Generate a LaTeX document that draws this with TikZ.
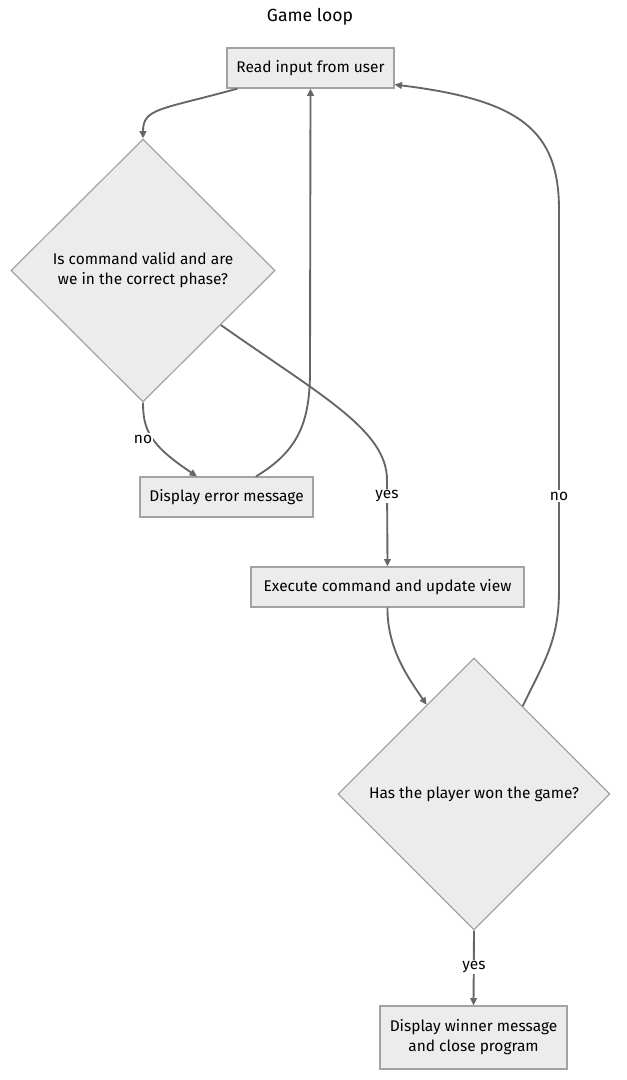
\documentclass[tikz,border=0pt]{standalone}
\usepackage{fontspec}
\setmainfont{Fira Sans}
\usetikzlibrary{shapes.geometric,arrows.meta,calc}
\definecolor{nodefill}{HTML}{ECECEC}
\definecolor{nodeline}{HTML}{A3A3A3}
\definecolor{edgecol}{HTML}{666666}
\tikzset{
  box/.style={draw=nodeline, fill=nodefill, line width=0.9pt, inner sep=0pt, align=center, font=\fontsize{11.6}{15}\selectfont},
  decision/.style={diamond, aspect=1, draw=nodeline, fill=nodefill, line width=0.9pt, inner sep=0pt, align=center, font=\fontsize{11.6}{15}\selectfont},
  edge/.style={draw=edgecol, line width=1.4pt, -{Triangle[length=5.5pt,width=5pt]}},
  lbl/.style={fill=white, inner sep=1pt, font=\fontsize{11.6}{13}\selectfont, text=black},
  ttl/.style={font=\fontsize{13.2}{15}\selectfont}
}
\begin{document}
\begin{tikzpicture}[x=0.75pt,y=-0.75pt]
\useasboundingbox (0,0) rectangle (627,1080);
\node[ttl] (title) at (310,17) {Game loop};
\node[box, minimum width=167*0.75pt, minimum height=40*0.75pt] (A) at (310.5,68) {Read input from user};
\node[decision, minimum width=264*0.75pt, minimum height=263*0.75pt] (B) at (143,270.5) {Is command valid and are\\we in the correct phase?};
\node[box, minimum width=173*0.75pt, minimum height=40*0.75pt] (C) at (226.5,497) {Display error message};
\node[box, minimum width=273*0.75pt, minimum height=40*0.75pt] (D) at (387.5,587) {Execute command and update view};
\node[decision, minimum width=272*0.75pt, minimum height=272*0.75pt] (E) at (474,794) {Has the player won the game?};
\node[box, minimum width=187*0.75pt, minimum height=63*0.75pt] (F) at (473.5,1037.5) {Display winner message\\and close program};

\coordinate (Aout) at ($(A.south)+(-73,0)$);
\coordinate (Ain) at ($(A.south east)+(0,-4)$);
\coordinate (Cin) at ($(C.north)+(-29.5,0)$);
\coordinate (Cout) at ($(C.north)+(29.5,0)$);

% A -> B
\draw[edge] (Aout) .. controls (160,110) and (143,108) .. (B.north);
% B -> C (no)
\draw[edge] (B.south) .. controls (143,430) and (150,445) .. (Cin);
% C -> A
\draw[edge] (Cout) .. controls (300,450) and (310,420) .. (310,370) -- (A.south);
% B -> D (yes)
\draw[edge] (B.-35) .. controls (320,395) and (387,430) .. (387,480) -- (D.north);
% D -> E
\draw[edge] (D.south) .. controls (387,650) and (410,680) .. (E.118);
% E -> A (no)
\draw[edge] (E.61.5) .. controls (545,660) and (559,640) .. (559,590) -- (559,210) .. controls (559,130) and (520,100) .. (Ain);
% E -> F (yes)
\draw[edge] (E.south) -- (F.north);

\node[lbl] (l1) at (143,439) {no};
\node[lbl] (l2) at (387,496) {yes};
\node[lbl] (l3) at (559,496) {no};
\node[lbl] (l4) at (474,967) {yes};
\end{tikzpicture}
\end{document}
